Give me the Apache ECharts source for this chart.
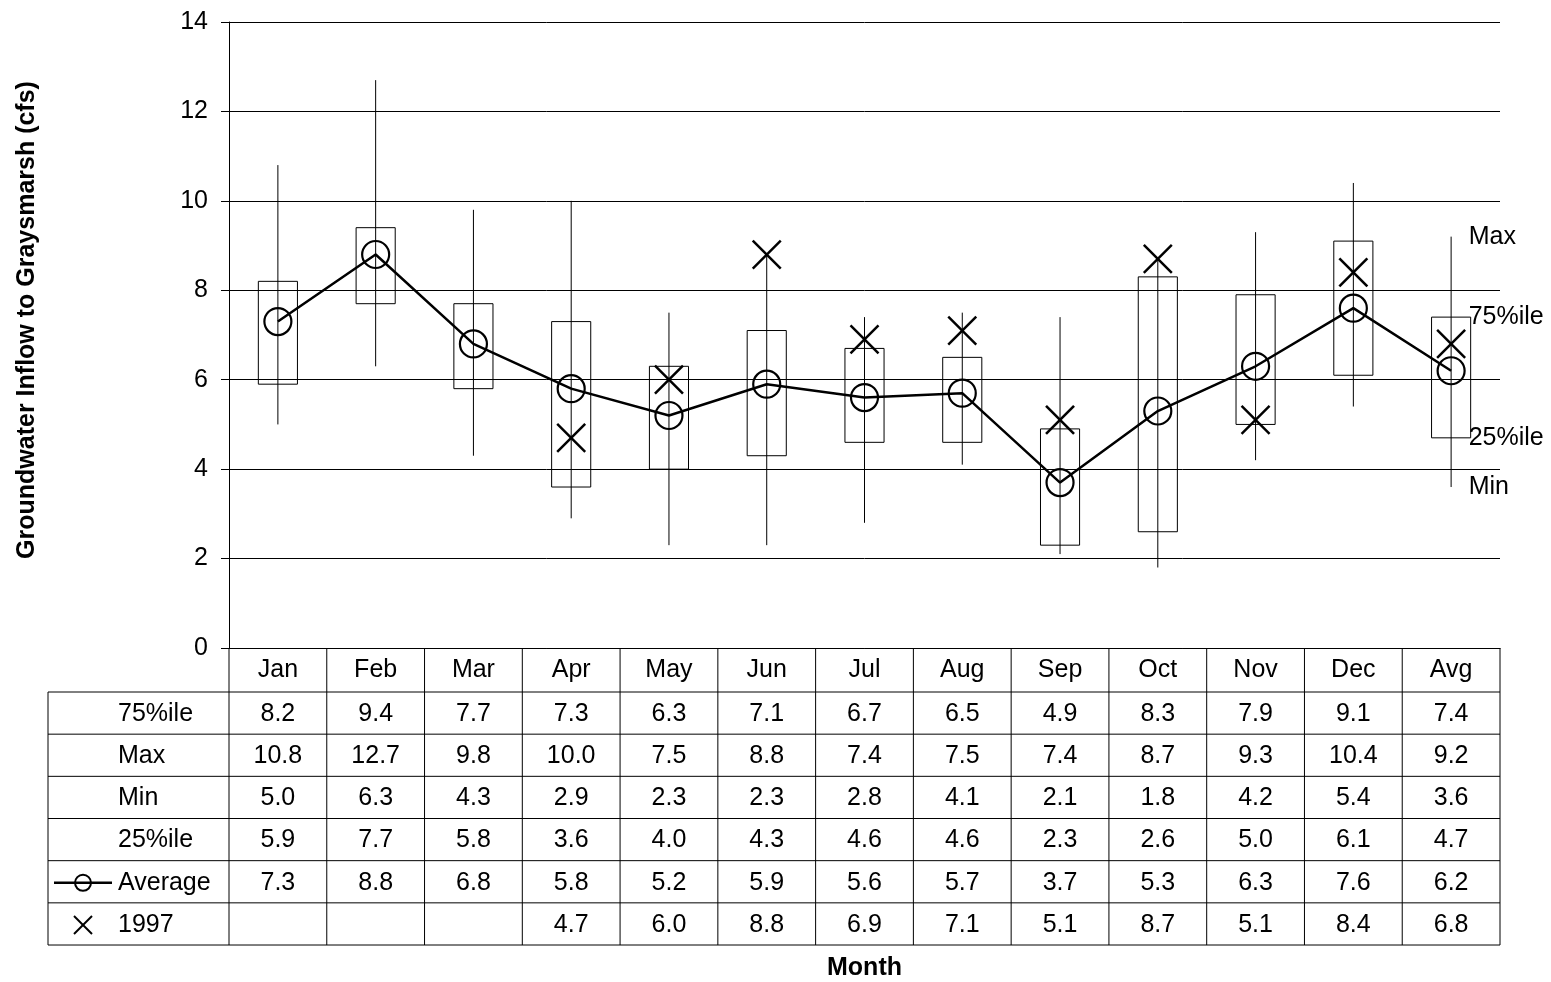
<!DOCTYPE html>
<html>
<head>
<meta charset="utf-8">
<script src="https://cdn.jsdelivr.net/npm/echarts@6/dist/echarts.min.js"></script>
<style>
  html, body { margin: 0; padding: 0; background: #fff; }
  #chart { width: 1551px; height: 982px; }
</style>
</head>
<body>
<div id="chart"></div>
<script>
// Monthly groundwater inflow statistics (cfs)
const months = ['Jan', 'Feb', 'Mar', 'Apr', 'May', 'Jun', 'Jul', 'Aug', 'Sep', 'Oct', 'Nov', 'Dec', 'Avg'];
const q75    = [8.2, 9.4, 7.7, 7.3, 6.3, 7.1, 6.7, 6.5, 4.9, 8.3, 7.9, 9.1, 7.4];
const maxV   = [10.8, 12.7, 9.8, 10.0, 7.5, 8.8, 7.4, 7.5, 7.4, 8.7, 9.3, 10.4, 9.2];
const minV   = [5.0, 6.3, 4.3, 2.9, 2.3, 2.3, 2.8, 4.1, 2.1, 1.8, 4.2, 5.4, 3.6];
const q25    = [5.9, 7.7, 5.8, 3.6, 4.0, 4.3, 4.6, 4.6, 2.3, 2.6, 5.0, 6.1, 4.7];
const avg    = [7.3, 8.8, 6.8, 5.8, 5.2, 5.9, 5.6, 5.7, 3.7, 5.3, 6.3, 7.6, 6.2];
const y1997  = [null, null, null, 4.7, 6.0, 8.8, 6.9, 7.1, 5.1, 8.7, 5.1, 8.4, 6.8];

// Table rows under the axis
const rowLabels = ['75%ile', 'Max', 'Min', '25%ile', 'Average', '1997'];
const rowValues = [q75, maxV, minV, q25, avg, y1997];

// Labels on the right-hand box
const sideLabels = ['Max', '75%ile', '25%ile', 'Min'];
const sideValues = [maxV, q75, q25, minV];

const FONT = "'Liberation Sans', Arial, sans-serif";
const FS = 25;
const GRID = { left: 229, top: 22, right: 51, bottom: 334 };
const HEADER_H = 44;
const ROW_H = 42.17;
const TABLE_LEFT = 48;

const chart = echarts.init(document.getElementById('chart'), null, { renderer: 'canvas' });

const boxData = months.map((m, i) => [i, minV[i], q25[i], q75[i], maxV[i]]);
const crossData = [];
y1997.forEach((v, i) => { if (v != null) crossData.push([i, v]); });

function renderBox(params, api) {
  const i = api.value(0);
  const pMin = api.coord([i, api.value(1)]);
  const p25 = api.coord([i, api.value(2)]);
  const p75 = api.coord([i, api.value(3)]);
  const pMax = api.coord([i, api.value(4)]);
  const half = api.size([1, 0])[0] * 0.2;
  const children = [
    { type: 'line', shape: { x1: pMin[0], y1: pMin[1], x2: pMax[0], y2: pMax[1] },
      style: { stroke: '#000', lineWidth: 1 } },
    { type: 'rect', shape: { x: p75[0] - half, y: p75[1], width: half * 2, height: p25[1] - p75[1] },
      style: { fill: 'none', stroke: '#000', lineWidth: 1 } }
  ];
  if (params.dataIndex === months.length - 1) {
    sideLabels.forEach((name, k) => {
      const p = api.coord([i, sideValues[k][i]]);
      children.push({
        type: 'text', x: p[0] + half - 2, y: p[1],
        style: { text: name, fill: '#000', font: FS + 'px ' + FONT, align: 'left', verticalAlign: 'middle' }
      });
    });
  }
  return { type: 'group', children };
}

function renderCross(params, api) {
  const p = api.coord([api.value(0), api.value(1)]);
  const r = 14;
  const st = { stroke: '#000', lineWidth: 2.5 };
  return {
    type: 'group',
    children: [
      { type: 'line', shape: { x1: p[0] - r, y1: p[1] - r, x2: p[0] + r, y2: p[1] + r }, style: st },
      { type: 'line', shape: { x1: p[0] - r, y1: p[1] + r, x2: p[0] + r, y2: p[1] - r }, style: st }
    ]
  };
}

chart.setOption({
  animation: false,
  backgroundColor: '#fff',
  textStyle: { fontFamily: FONT },
  grid: GRID,
  xAxis: {
    type: 'category',
    data: months,
    boundaryGap: true,
    axisLine: { show: true, lineStyle: { color: '#000', width: 1 } },
    axisTick: { show: false },
    axisLabel: { color: '#000', fontSize: FS, fontFamily: FONT, margin: 10, lineHeight: 25, interval: 0 },
    splitLine: { show: false }
  },
  yAxis: {
    type: 'value',
    min: 0, max: 14, interval: 2,
    axisLine: { show: true, lineStyle: { color: '#000', width: 1 } },
    axisTick: { show: true, length: 8, lineStyle: { color: '#000' } },
    axisLabel: { color: '#000', fontSize: FS, fontFamily: FONT, margin: 21 },
    splitLine: { show: true, lineStyle: { color: '#000', width: 1 } }
  },
  series: [
    {
      name: 'Range', type: 'custom', data: boxData, renderItem: renderBox, z: 2,
      encode: { x: 0, y: [1, 2, 3, 4] }
    },
    {
      name: 'Average', type: 'line', data: avg, z: 3,
      symbol: 'circle', symbolSize: 27,
      itemStyle: { color: 'rgba(0,0,0,0)', borderColor: '#000', borderWidth: 2.2 },
      lineStyle: { color: '#000', width: 2.5 }
    },
    {
      name: '1997', type: 'custom', data: crossData, renderItem: renderCross, z: 4,
      encode: { x: 0, y: 1 }
    }
  ]
});

// Data table drawn below the category axis, aligned to the axis bands
function buildTable() {
  const c0 = chart.convertToPixel({ xAxisIndex: 0 }, 0);
  const c1 = chart.convertToPixel({ xAxisIndex: 0 }, 1);
  const band = c1 - c0;
  const axisY = chart.convertToPixel({ yAxisIndex: 0 }, 0);
  const tableTop = axisY + HEADER_H;
  const tableBottom = tableTop + ROW_H * rowLabels.length;
  const leftEdge = c0 - band / 2;
  const rightEdge = leftEdge + band * months.length;
  const line = { stroke: '#000', lineWidth: 1 };
  const els = [];

  // column boundaries
  for (let k = 0; k <= months.length; k++) {
    const x = leftEdge + band * k;
    els.push({ type: 'line', shape: { x1: x, y1: axisY, x2: x, y2: tableBottom }, style: line });
  }
  els.push({ type: 'line', shape: { x1: TABLE_LEFT, y1: tableTop, x2: TABLE_LEFT, y2: tableBottom }, style: line });
  // row boundaries
  for (let r = 0; r <= rowLabels.length; r++) {
    const y = tableTop + ROW_H * r;
    els.push({ type: 'line', shape: { x1: TABLE_LEFT, y1: y, x2: rightEdge, y2: y }, style: line });
  }
  // row labels and values
  rowLabels.forEach((lab, r) => {
    const cy = tableTop + ROW_H * (r + 0.5) + 1;
    els.push({ type: 'text', x: 118, y: cy,
      style: { text: lab, fill: '#000', font: FS + 'px ' + FONT, align: 'left', verticalAlign: 'middle' } });
    rowValues[r].forEach((v, i) => {
      if (v == null) return;
      els.push({ type: 'text', x: c0 + band * i, y: cy,
        style: { text: v.toFixed(1), fill: '#000', font: FS + 'px ' + FONT, align: 'center', verticalAlign: 'middle' } });
    });
  });
  // legend keys
  const avgY = tableTop + ROW_H * 4.5 + 1;
  els.push({ type: 'line', shape: { x1: 54, y1: avgY, x2: 112, y2: avgY }, style: { stroke: '#000', lineWidth: 2.5 } });
  els.push({ type: 'circle', shape: { cx: 83, cy: avgY, r: 8 }, style: { fill: 'none', stroke: '#000', lineWidth: 2 } });
  const xY = tableTop + ROW_H * 5.5 + 1;
  els.push({ type: 'line', shape: { x1: 74, y1: xY - 9, x2: 92, y2: xY + 9 }, style: { stroke: '#000', lineWidth: 2 } });
  els.push({ type: 'line', shape: { x1: 74, y1: xY + 9, x2: 92, y2: xY - 9 }, style: { stroke: '#000', lineWidth: 2 } });

  // axis titles
  els.push({ type: 'text', x: 27, y: 320, rotation: Math.PI / 2,
    style: { text: 'Groundwater Inflow to Graysmarsh (cfs)', fill: '#000', font: 'bold 25px ' + FONT,
      align: 'center', verticalAlign: 'middle' } });
  els.push({ type: 'text', x: (leftEdge + rightEdge) / 2, y: 968,
    style: { text: 'Month', fill: '#000', font: 'bold 25px ' + FONT, align: 'center', verticalAlign: 'middle' } });

  chart.setOption({ graphic: { elements: els } });
}
buildTable();
</script>
</body>
</html>
